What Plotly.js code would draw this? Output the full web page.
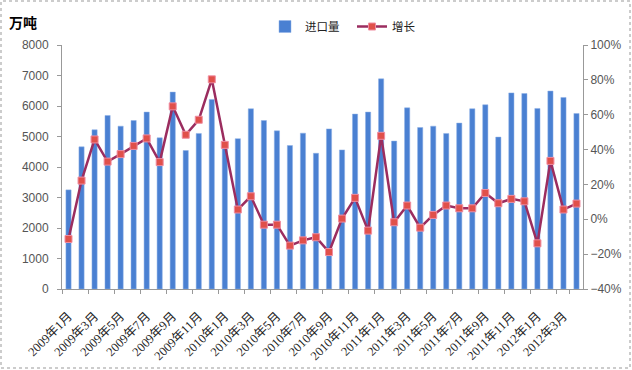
<!DOCTYPE html>
<html><head><meta charset="utf-8">
<script src="https://cdn.plot.ly/plotly-3.0.1.min.js"></script>
<style>html,body{margin:0;padding:0;background:#fff;}#chart{width:632px;height:370px;}</style>
</head><body><div id="chart"></div>
<script>
var months = [
 '2009年1月','2009年2月','2009年3月','2009年4月','2009年5月','2009年6月','2009年7月','2009年8月','2009年9月','2009年10月','2009年11月','2009年12月',
 '2010年1月','2010年2月','2010年3月','2010年4月','2010年5月','2010年6月','2010年7月','2010年8月','2010年9月','2010年10月','2010年11月','2010年12月',
 '2011年1月','2011年2月','2011年3月','2011年4月','2011年5月','2011年6月','2011年7月','2011年8月','2011年9月','2011年10月','2011年11月','2011年12月',
 '2012年1月','2012年2月','2012年3月','2012年4月'];
var imports = [3250,4660,5220,5690,5340,5525,5800,4955,6455,4540,5100,6215,
 4740,4930,5910,5525,5185,4705,5110,4450,5250,4560,5735,5800,
 6890,4850,5940,5295,5340,5100,5440,5910,6040,4980,6430,6410,
 5920,6490,6280,5755];
var growth = [-11.3,22.2,45.8,33.1,37.4,42.1,46.4,32.8,64.8,48.5,57.1,80.3,
 42.7,5.6,13.2,-3.1,-3.1,-15.1,-12.1,-10.3,-18.8,0.4,12.3,-6.5,
 47.9,-1.7,7.9,-4.8,2.5,7.9,6.3,6.3,15.1,9.2,11.7,10.3,
 -13.8,33.5,5.6,9.0];
var tickLabels = months.filter(function(m,i){return i%2===0;});

var serifFam = 'Liberation Serif, Noto Sans CJK SC, serif';
var sansFam = 'Liberation Sans, sans-serif';
var W = 632, H = 370, L = 62, R = 49, T = 45, B = 81;
var pw = W - L - R, ph = H - T - B;
function px(x){ return (x - L) / pw; }
function py(y){ return (H - B - y) / ph; }

var traces = [
 {type:'bar', name:'进口量', x:months, y:imports,
  marker:{color:'#4A80D2', line:{color:'#8fb0e6', width:0.5}}, yaxis:'y'},
 {type:'scatter', mode:'lines+markers', name:'增长', x:months, y:growth, yaxis:'y2',
  line:{color:'#9B2D5F', width:2.5},
  marker:{symbol:'square', size:7, color:'#E0504A', line:{color:'#F08CA0', width:1}}}
];
var layout = {
 width:W, height:H,
 margin:{l:L, r:R, t:T, b:B},
 paper_bgcolor:'#fff', plot_bgcolor:'#fff',
 font:{family:serifFam, size:12, color:'#333'},
 bargap:0.6,
 showlegend:true,
 legend:{orientation:'h', x:px(265), xanchor:'left', y:py(12), yanchor:'top',
   entrywidth:42, entrywidthmode:'pixels',
   font:{family:'Noto Sans CJK SC, sans-serif', size:11.5, color:'#222'}, bgcolor:'rgba(0,0,0,0)'},
 xaxis:{type:'category', range:[-0.5, 39.5], tickmode:'array', tickvals:tickLabels, ticktext:tickLabels,
   tickson:'boundaries',
   tickangle:-45, showline:true, linecolor:'#999', linewidth:1, ticks:'outside', ticklen:4,
   tickcolor:'#999', showgrid:false, zeroline:false, ticklabelstandoff:14,
   tickfont:{family:serifFam, size:12.5, color:'#222'}},
 yaxis:{range:[0,8000], dtick:1000, showline:true, linecolor:'#999', linewidth:1,
   ticks:'outside', ticklen:4, tickcolor:'#999', showgrid:false, zeroline:false,
   ticklabelstandoff:6,
   tickfont:{family:sansFam, size:12, color:'#555'}},
 yaxis2:{range:[-40,100], dtick:20, ticksuffix:'%', overlaying:'y', side:'right',
   showline:true, linecolor:'#999', linewidth:1, ticks:'outside', ticklen:4, tickcolor:'#999',
   showgrid:false, zeroline:false, ticklabelstandoff:0,
   tickfont:{family:sansFam, size:12, color:'#555'}},
 annotations:[{text:'<b>万吨</b>', xref:'paper', yref:'paper', x:px(7), xanchor:'left',
   y:py(22), yanchor:'middle', showarrow:false,
   font:{family:'Noto Sans CJK SC, sans-serif', size:14, color:'#000'}}],
 shapes:[{type:'rect', xref:'paper', yref:'paper', x0:px(1), x1:px(630), y0:py(368), y1:py(1),
   line:{color:'#999', width:1, dash:'dot'}}]
};
Plotly.newPlot('chart', traces, layout, {displayModeBar:false, staticPlot:true});
</script></body></html>
